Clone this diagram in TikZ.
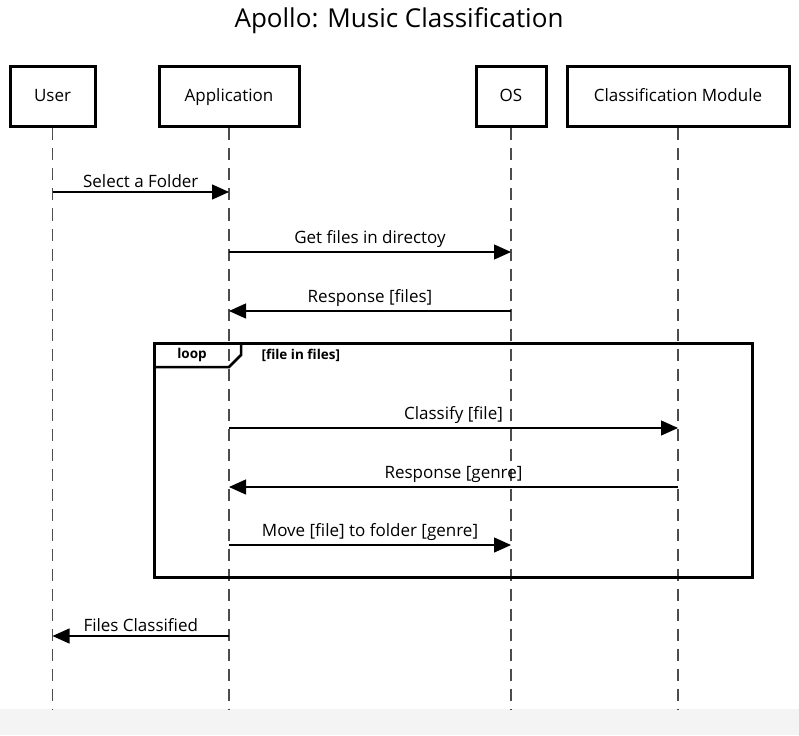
\documentclass[tikz,border=0pt]{standalone}
\usepackage{fontspec}
\setmainfont{Open Sans}
\usetikzlibrary{arrows.meta}
\begin{document}
\begin{tikzpicture}[
	x=1pt, y=-1pt,
	actor/.style={draw, line width=3pt, minimum height=60pt, inner sep=0pt, text height=12pt, text depth=3pt, font=\fontsize{17}{20}\selectfont},
	lifeline/.style={line width=1.8pt, dash pattern=on 12pt off 8pt, color=black!70},
	msg/.style={line width=1.3pt, -{Triangle[length=17pt, width=15pt]}},
	msglabel/.style={above, inner sep=4pt, font=\fontsize{17}{20}\selectfont},
	loopframe/.style={draw, line width=3pt},
	looplabel/.style={font=\fontsize{13.5}{15}\bfseries\selectfont}
	]
	\definecolor{bggray}{RGB}{244, 244, 244}

	% page
	\useasboundingbox (0, 0) rectangle (799, 735);
	\fill [bggray] (0, 709) rectangle (799, 735);
	\node [font=\fontsize{26}{30}\selectfont] (title) at (399, 21) {Apollo: Music Classification};

	% participants
	\node [actor, minimum width=85pt] (user) at (52.5, 97) {User};
	\node [actor, minimum width=140pt] (app) at (229, 97) {Application};
	\node [actor, minimum width=70pt] (os) at (511, 97) {OS};
	\node [actor, minimum width=222pt] (cls) at (678, 97) {Classification Module};

	% lifelines
	\foreach \p in {user, app, os, cls} {
		\coordinate (\p-end) at (\p.south |- 0, 709);
		\draw [lifeline] (\p.south) -- (\p-end);
	}

	% message rows
	\coordinate (m1) at (0, 192);
	\coordinate (m2) at (0, 252);
	\coordinate (m3) at (0, 311);
	\coordinate (m4) at (0, 428);
	\coordinate (m5) at (0, 487);
	\coordinate (m6) at (0, 545);
	\coordinate (m7) at (0, 636);

	% loop frame
	\coordinate (loop-nw) at (154, 343);
	\coordinate (loop-se) at (752, 577);
	\draw [loopframe] (loop-nw) rectangle (loop-se);
	\draw [line width=2.5pt] (154, 367) -- (229, 367) -- (241, 355) -- (241, 343);
	\node [looplabel] (looptag) at (192, 355) {loop};
	\node [looplabel, anchor=west] (loopcond) at (258, 355) {[file in files]};

	% messages
	\draw [msg] (user |- m1) -- node [msglabel] {Select a Folder} (app |- m1);
	\draw [msg] (app |- m2) -- node [msglabel] {Get files in directoy} (os |- m2);
	\draw [msg] (os |- m3) -- node [msglabel] {Response [files]} (app |- m3);
	\draw [msg] (app |- m4) -- node [msglabel] {Classify [file]} (cls |- m4);
	\draw [msg] (cls |- m5) -- node [msglabel] {Response [genre]} (app |- m5);
	\draw [msg] (app |- m6) -- node [msglabel] {Move [file] to folder [genre]} (os |- m6);
	\draw [msg] (app |- m7) -- node [msglabel] {Files Classified} (user |- m7);
\end{tikzpicture}
\end{document}
